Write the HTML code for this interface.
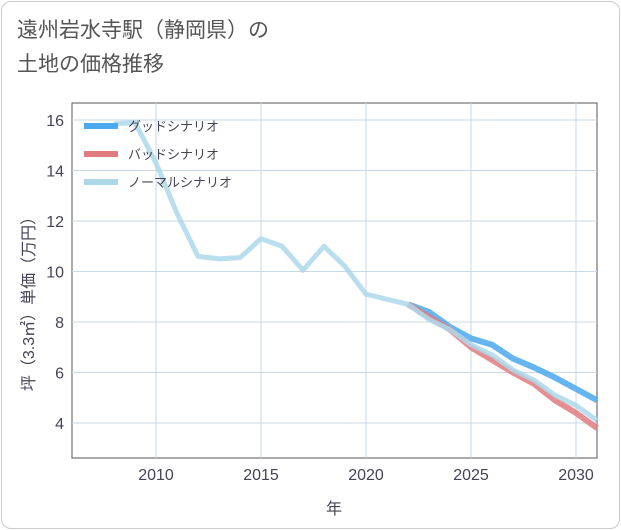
<!DOCTYPE html>
<html><head><meta charset="utf-8"><style>
body{margin:0;background:#fff;font-family:"Liberation Sans","Noto Sans CJK JP",sans-serif}
#card{position:absolute;left:1px;top:1px;width:617px;height:526px;border:1px solid #ccc;border-radius:10px;background:#fff}
#title{position:absolute;left:17px;top:14px;font-size:21px;line-height:34px;color:#555}
</style></head><body>
<div id="card"></div>
<div id="title">遠州岩水寺駅（静岡県）の<br>土地の価格推移</div>
<svg id="chart" width="621" height="530" style="position:absolute;left:0;top:0"></svg>
<script>
const years=[2008,2009,2010,2011,2012,2013,2014,2015,2016,2017,2018,2019,2020,2021,2022,2023,2024,2025,2026,2027,2028,2029,2030,2031];
const normal=[15.85,15.9,14.3,12.3,10.6,10.5,10.55,11.3,11.0,10.05,11.0,10.2,9.1,8.9,8.7,8.1,7.7,7.1,6.7,6.1,5.7,5.1,4.7,4.1];
const fyears=[2022,2023,2024,2025,2026,2027,2028,2029,2030,2031];
const good=[8.7,8.4,7.8,7.35,7.1,6.55,6.2,5.8,5.35,4.9];
const bad=[8.7,8.2,7.7,7.0,6.5,6.0,5.55,4.9,4.4,3.8];
const xTicks=[2010,2015,2020,2025,2030];
const yTicks=[4,6,8,10,12,14,16];
const L=72,R=597,T=103,B=458;
const x=v=>L+(v-2006)*(R-L)/25;
const y=v=>120+(16-v)*(423-120)/12;
const svg=document.getElementById('chart');
const NS='http://www.w3.org/2000/svg';
function mk(t,a){const e=document.createElementNS(NS,t);for(const k in a)e.setAttribute(k,a[k]);svg.appendChild(e);return e;}
let e=mk('rect',{x:L,y:T,width:R-L,height:B-T,fill:'#fff',stroke:'#555','stroke-width':1});


xTicks.forEach(v=>{let g=mk('line',{x1:x(v),x2:x(v),y1:T,y2:B,stroke:'#c8d8e4'});


let t=mk('text',{x:x(v),y:480,'text-anchor':'middle','font-size':16,fill:'#445'});t.textContent=v;

});
yTicks.forEach(v=>{let g=mk('line',{x1:L,x2:R,y1:y(v),y2:y(v),stroke:'#c8d8e4'});


let t=mk('text',{x:64,y:y(v)+6,'text-anchor':'end','font-size':16,fill:'#445'});t.textContent=v;

});
function line(xs,vs,c,n,w){const p=mk('polyline',{points:xs.map((v,i)=>x(v)+','+y(vs[i])).join(' '),fill:'none',stroke:c,'stroke-width':w,'stroke-linejoin':'round','stroke-opacity':0.85});

}
line(fyears,good,'#4aa8ef','good-scenario-line',6);
line(fyears,bad,'#e07b80','bad-scenario-line',6);
line(years,normal,'#add8ea','normal-scenario-line',5);
const leg=[['グッドシナリオ','#4aa8ef'],['バッドシナリオ','#e07b80'],['ノーマルシナリオ','#add8ea']];
leg.forEach((l,i)=>{const yy=126+i*28;
let a=mk('line',{x1:84,x2:118,y1:yy,y2:yy,stroke:l[1],'stroke-width':6});


let t=mk('text',{x:128,y:yy+5,'font-size':13,fill:'#445'});t.textContent=l[0];

});
let xt=mk('text',{x:334,y:514,'text-anchor':'middle','font-size':16,fill:'#445'});xt.textContent='年';


let yt=mk('text',{x:0,y:0,transform:'translate(34,300) rotate(-90)','text-anchor':'middle','font-size':16,fill:'#445'});yt.textContent='坪（3.3㎡）単価（万円）';


</script>
</body></html>
